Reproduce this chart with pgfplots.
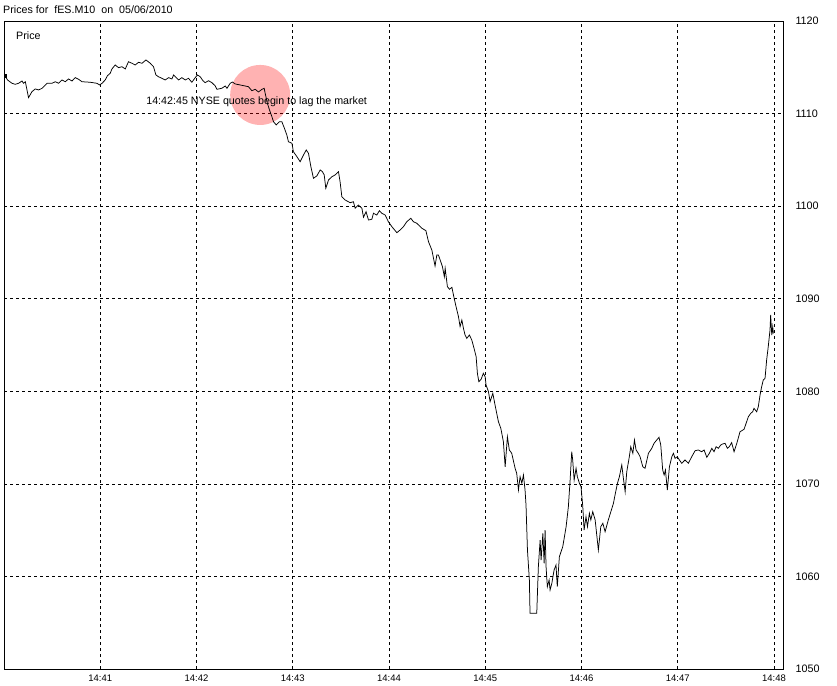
\documentclass[border=0pt]{standalone}
\usepackage{fontspec}
\setmainfont{Liberation Sans}
\usepackage{pgfplots}
\pgfplotsset{compat=1.18}
\begin{document}
\begin{tikzpicture}
\begin{axis}[
  name=ax, at={(0,0)}, anchor=south west,
  scale only axis, width=779bp, height=648bp,
  xmin=0, xmax=485.6, ymin=1050, ymax=1120,
  xtick={60,120,180,240,300,360,420,480},
  xticklabels={14:41,14:42,14:43,14:44,14:45,14:46,14:47,14:48},
  ytick={1050,1060,1070,1080,1090,1100,1110,1120},
  yticklabel pos=right,
  grid=major,
  major grid style={black, line width=0.7bp, dash pattern=on 3bp off 3bp},
  major tick length=0pt,
  axis line style={black, line width=0.9bp},
  tick label style={font=\fontsize{9.5bp}{11bp}\selectfont, black},
  /pgf/number format/assume math mode=true,
  /pgf/number format/1000 sep={},
  yticklabel style={anchor=west, xshift=9bp, font=\fontsize{10.8bp}{12bp}\selectfont},
  xticklabel style={yshift=-2bp},
]
\fill[red, fill opacity=0.3] (axis cs:159.7,1112.01) circle[radius=30bp];
\addplot[black, line width=0.75bp] coordinates {
(0.6,1114.09) (2.2,1113.63) (5.0,1113.27) (7.0,1113.16) (9.1,1113.27) (11.2,1113.52) (12.2,1113.27) (13.3,1113.44)
(15.3,1111.72) (17.4,1112.36) (19.5,1112.66) (21.6,1112.55) (23.7,1112.73) (24.7,1112.90) (26.8,1113.27) (29.9,1113.27)
(32.0,1113.44) (34.0,1113.27) (36.1,1113.63) (38.2,1113.44) (40.2,1113.74) (42.4,1113.52) (44.4,1113.88) (46.5,1113.70)
(48.6,1113.44) (53.8,1113.38) (57.9,1113.27) (59.6,1113.09) (61.1,1113.27) (63.1,1113.63) (64.5,1114.09) (66.2,1114.35)
(67.3,1114.82) (69.3,1115.25) (71.4,1114.96) (73.5,1115.06) (75.6,1114.82) (77.6,1115.60) (79.8,1115.43) (81.8,1115.25)
(83.9,1115.54) (86.0,1115.43) (88.5,1115.79) (91.2,1115.43) (93.2,1115.06) (94.7,1114.17) (96.3,1113.98) (98.4,1113.81)
(100.5,1113.63) (102.6,1113.88) (104.7,1113.74) (105.7,1114.17) (107.4,1113.88) (108.8,1113.63) (110.9,1113.88) (113.0,1113.63)
(115.0,1113.81) (117.1,1113.38) (119.2,1113.88) (120.6,1114.17) (122.3,1113.98) (124.0,1113.55) (125.4,1113.34) (127.5,1113.55)
(129.6,1113.34) (131.7,1112.98) (132.7,1112.62) (135.8,1112.73) (137.9,1112.98) (139.0,1112.73) (141.0,1113.27) (142.4,1113.41)
(144.1,1113.20) (147.2,1113.09) (150.3,1112.98) (152.4,1112.90) (154.5,1112.47) (156.6,1112.62) (158.6,1112.33) (160.8,1112.62)
(162.2,1112.73) (162.8,1112.19) (164.2,1111.11) (165.5,1110.39) (167.0,1109.66) (168.0,1109.12) (169.7,1108.77) (171.7,1109.12)
(173.2,1109.12) (174.8,1108.41) (176.3,1107.69) (177.3,1106.96) (179.5,1106.79) (180.4,1105.88) (182.6,1105.34) (184.6,1104.80)
(186.7,1105.53) (188.4,1106.07) (189.8,1105.71) (191.3,1104.26) (192.9,1103.01) (195.0,1103.26) (197.1,1103.91) (198.5,1103.72)
(199.6,1103.37) (200.6,1101.93) (202.3,1102.83) (204.4,1103.18) (206.4,1103.37) (208.5,1103.72) (209.5,1102.64) (210.6,1101.02)
(212.7,1100.66) (215.8,1100.37) (217.8,1100.48) (218.9,1099.77) (220.9,1100.12) (223.1,1099.77) (224.1,1098.80) (225.7,1099.40)
(227.2,1098.50) (229.3,1098.58) (230.3,1099.23) (232.4,1099.04) (234.0,1099.51) (235.5,1099.23) (237.6,1099.04) (239.6,1098.32)
(241.8,1097.78) (244.9,1097.13) (246.9,1097.42) (249.0,1097.78) (251.1,1098.32) (253.6,1098.69) (255.2,1098.32) (257.3,1098.15)
(260.5,1097.61) (263.0,1097.35) (264.6,1096.16) (266.7,1095.26) (268.7,1093.53) (269.8,1094.72) (270.8,1094.72) (271.9,1094.18)
(273.3,1093.46) (274.5,1092.38) (275.0,1093.29) (276.4,1091.30) (277.7,1091.02) (279.2,1091.23) (280.6,1090.05) (281.8,1089.14)
(283.3,1088.06) (284.3,1086.98) (285.4,1087.70) (286.4,1086.80) (287.4,1086.08) (288.5,1085.72) (290.1,1086.08) (291.6,1085.54)
(293.0,1084.64) (294.3,1083.74) (295.1,1081.94) (296.0,1081.04) (297.4,1081.29) (298.8,1081.94) (299.9,1081.58) (300.5,1080.68)
(302.0,1079.96) (303.0,1078.88) (304.7,1079.78) (306.1,1078.52) (308.2,1076.71) (309.7,1076.00) (310.3,1075.46) (311.3,1074.55)
(312.4,1071.85) (313.8,1075.09) (315.0,1073.66) (316.5,1073.30) (318.6,1071.68) (319.6,1071.14) (320.7,1069.34) (321.7,1070.77)
(322.8,1070.06) (323.8,1070.96) (324.8,1069.34) (325.4,1067.72) (326.3,1062.85) (327.5,1059.61) (327.9,1056.02) (332.1,1056.02)
(333.1,1061.05) (334.2,1063.93) (334.8,1061.77) (335.9,1064.66) (336.7,1061.42) (337.3,1065.01) (337.9,1061.05) (338.7,1058.89)
(339.8,1059.61) (340.4,1058.53) (341.5,1059.26) (342.9,1060.69) (344.1,1061.23) (344.9,1058.89) (346.2,1062.13) (348.3,1063.21)
(350.4,1065.37) (351.8,1067.53) (352.9,1070.42) (353.9,1073.47) (354.5,1072.58) (355.4,1070.42) (356.6,1071.68) (357.4,1070.77)
(358.7,1070.06) (359.7,1069.69) (360.8,1067.53) (361.6,1065.01) (362.8,1066.45) (363.7,1065.37) (364.9,1066.82) (365.8,1066.10)
(367.0,1066.99) (368.5,1066.10) (370.5,1062.85) (372.0,1065.37) (373.3,1065.74) (374.7,1064.83) (376.7,1066.10) (379.9,1067.90)
(380.9,1068.80) (382.4,1070.06) (383.6,1070.77) (385.1,1072.04) (386.1,1070.60) (387.2,1069.15) (388.2,1071.31) (389.8,1072.93)
(390.7,1074.01) (392.0,1073.30) (393.0,1074.74) (394.0,1073.66) (395.4,1073.30) (396.5,1072.93) (398.2,1071.85) (399.6,1071.68)
(401.7,1073.30) (403.8,1073.84) (405.2,1074.38) (406.9,1074.74) (408.3,1075.03) (409.4,1074.20) (410.6,1071.50) (411.5,1070.96)
(412.3,1071.50) (413.5,1069.34) (414.8,1071.85) (416.3,1072.93) (417.3,1073.30) (418.3,1072.76) (419.7,1072.93) (421.0,1072.58)
(422.5,1072.22) (424.5,1072.58) (426.6,1072.22) (428.7,1072.93) (430.8,1073.58) (432.8,1073.66) (434.9,1073.47) (436.4,1073.66)
(438.1,1072.87) (439.7,1073.30) (441.2,1073.84) (442.6,1073.47) (443.9,1074.01) (445.3,1073.84) (446.8,1074.20) (448.0,1074.31)
(449.5,1074.38) (450.9,1073.84) (452.1,1074.01) (453.6,1074.45) (455.1,1073.47) (456.8,1074.38) (458.8,1075.63) (461.3,1075.89)
(462.6,1076.54) (464.0,1077.25) (465.5,1077.62) (466.7,1077.79) (467.5,1078.16) (469.2,1077.79) (470.2,1078.33) (471.3,1079.60)
(472.3,1080.50) (473.3,1081.22) (474.4,1081.40) (475.4,1083.38) (476.4,1084.82) (477.5,1086.62) (477.9,1088.24) (478.6,1086.08)
(479.2,1086.98) (479.6,1086.26)
};
\addplot[black, only marks, mark=square*, mark size=1.2bp] coordinates {(0.6,1114.09)};
\node[font=\fontsize{10.7bp}{12bp}\selectfont, anchor=center] at (axis cs:157.5,1111.25) {14:42:45 NYSE quotes begin to lag the market};
\node[font=\fontsize{10.7bp}{12bp}\selectfont, anchor=west, inner sep=0pt] at ([xshift=12bp, yshift=-15bp]rel axis cs:0,1) {Price};
\end{axis}
\node[font=\fontsize{10.7bp}{12bp}\selectfont, anchor=west, inner sep=0pt] at (-1bp, 659bp) {Prices for\ \ fES.M10\ \ on\ \ 05/06/2010};
\pgfresetboundingbox
\path (-4bp,-17bp) rectangle (833bp,669bp);
\end{tikzpicture}
\end{document}
